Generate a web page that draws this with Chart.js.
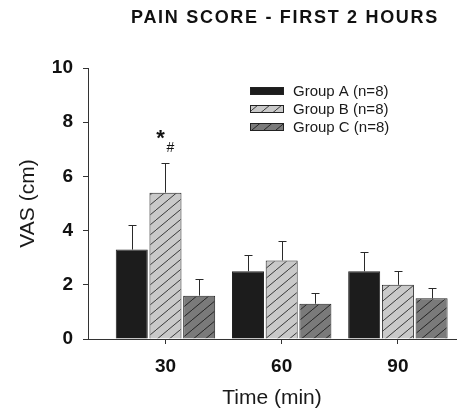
<!DOCTYPE html>
<html>
<head>
<meta charset="utf-8">
<script src="https://cdn.jsdelivr.net/npm/chart.js@4.4.1/dist/chart.umd.min.js"></script>
<style>
  html, body { margin: 0; padding: 0; background: #fff; }
</style>
</head>
<body>
<canvas id="chart" width="475" height="414"></canvas>
<script>
/* =========================
   DATA
========================= */
const times = [30, 60, 90];
const groupLabels = ["Group A (n=8)", "Group B (n=8)", "Group C (n=8)"];
const groupA = [3.3, 2.5, 2.5];
const groupB = [5.4, 2.9, 2.0];
const groupC = [1.6, 1.3, 1.5];
const semA = [0.9, 0.6, 0.7];
const semB = [1.1, 0.7, 0.5];
const semC = [0.6, 0.4, 0.4];
const yTicks = [0, 2, 4, 6, 8, 10];
const titleText = "PAIN SCORE - FIRST 2 HOURS";
// significance marks above a bar
const marks = [{ dataset: 1, index: 0, star: "*", hash: "#" }];

const FONT = "'Liberation Sans', Arial, sans-serif";
const canvas = document.getElementById("chart");
const ctx = canvas.getContext("2d");

/* =========================
   HATCH PATTERNS
========================= */
function hatch(bg, line) {
  const w = 12, h = 10;
  const c = document.createElement("canvas");
  c.width = w; c.height = h;
  const g = c.getContext("2d");
  g.fillStyle = bg;
  g.fillRect(0, 0, w, h);
  g.strokeStyle = line;
  g.lineWidth = 1;
  g.beginPath();
  g.moveTo(-w, 2 * h);
  g.lineTo(2 * w, -h);
  g.stroke();
  return ctx.createPattern(c, "repeat");
}

const fillA = "#1c1c1c";
const fillB = hatch("#c9c9c9", "#3a3a3a");
const fillC = hatch("#7a7a7a", "#262626");

function points(vals) {
  return times.map((t, i) => ({ x: t, y: vals[i] }));
}

/* =========================
   ERROR BARS
========================= */
const errorBars = {
  id: "errorBars",
  afterDatasetsDraw(chart) {
    const c = chart.ctx;
    const y = chart.scales.y;
    c.save();
    c.strokeStyle = "#2a2a2a";
    c.lineWidth = 1;
    chart.data.datasets.forEach((ds, di) => {
      chart.getDatasetMeta(di).data.forEach((bar, i) => {
        const top = Math.round(y.getPixelForValue(ds.data[i].y + ds.sem[i])) + 0.5;
        const x = Math.round(bar.x) + 0.5;
        c.beginPath();
        c.moveTo(x, bar.y);
        c.lineTo(x, top);
        c.moveTo(x - 4, top);
        c.lineTo(x + 4, top);
        c.stroke();
      });
    });
    c.restore();
  }
};

/* =========================
   TITLE, LEGEND, MARKS
========================= */
const extras = {
  id: "extras",
  afterDraw(chart) {
    const c = chart.ctx;
    const area = chart.chartArea;
    const y = chart.scales.y;
    c.save();

    // title
    c.fillStyle = "#111";
    c.font = "bold 18px " + FONT;
    c.textAlign = "center";
    c.textBaseline = "middle";
    c.letterSpacing = "1.7px";
    c.fillText(titleText, (area.left + area.right) / 2 + 13, 18);
    c.letterSpacing = "0px";

    // legend
    const lx = area.left + 162;
    const ly = area.top + 23;
    c.textAlign = "left";
    c.font = "15px " + FONT;
    chart.data.datasets.forEach((ds, i) => {
      const yy = ly + i * 18;
      c.fillStyle = ds.backgroundColor;
      c.fillRect(lx, yy - 4, 34, 8);
      c.strokeStyle = "#222";
      c.lineWidth = 1;
      c.strokeRect(lx + 0.5, yy - 3.5, 33, 7);
      c.fillStyle = "#1a1a1a";
      c.fillText(ds.label, lx + 43, yy + 1);
    });

    // significance marks
    marks.forEach(m => {
      const ds = chart.data.datasets[m.dataset];
      const bar = chart.getDatasetMeta(m.dataset).data[m.index];
      const top = y.getPixelForValue(ds.data[m.index].y + ds.sem[m.index]);
      c.fillStyle = "#111";
      c.textAlign = "center";
      c.font = "bold 22px " + FONT;
      c.fillText(m.star, bar.x - 5, top - 24);
      c.font = "14px " + FONT;
      c.fillText(m.hash, bar.x + 5, top - 15);
    });

    c.restore();
  }
};

/* =========================
   CHART
========================= */
new Chart(canvas, {
  type: "bar",
  data: {
    datasets: [
      { label: groupLabels[0], data: points(groupA), sem: semA, backgroundColor: fillA },
      { label: groupLabels[1], data: points(groupB), sem: semB, backgroundColor: fillB },
      { label: groupLabels[2], data: points(groupC), sem: semC, backgroundColor: fillC }
    ]
  },
  options: {
    responsive: false,
    animation: false,
    events: [],
    layout: { padding: { top: 68, right: 19, left: 0, bottom: 0 } },
    categoryPercentage: 0.87,
    barPercentage: 0.95,
    borderColor: "#222",
    borderWidth: 1,
    plugins: {
      legend: { display: false },
      tooltip: { enabled: false },
      title: { display: false }
    },
    scales: {
      x: {
        type: "linear",
        min: 10,
        max: 105,
        offset: false,
        grid: { offset: false, drawOnChartArea: false, tickLength: 5, color: "#333" },
        border: { color: "#333", width: 1 },
        afterBuildTicks: s => { s.ticks = times.map(v => ({ value: v })); },
        afterFit: s => { s.height = 75; },
        ticks: {
          color: "#111",
          padding: 11,
          maxRotation: 0,
          font: { family: FONT, size: 19, weight: "bold" }
        },
        title: {
          display: true,
          text: "Time (min)",
          color: "#1a1a1a",
          font: { family: FONT, size: 21 },
          padding: { top: 0, bottom: 3 }
        }
      },
      y: {
        min: 0,
        max: 10,
        grid: { drawOnChartArea: false, tickLength: 5, color: "#333" },
        border: { color: "#333", width: 1 },
        afterBuildTicks: s => { s.ticks = yTicks.map(v => ({ value: v })); },
        afterFit: s => { s.width = 88; },
        ticks: {
          color: "#111",
          padding: 10,
          font: { family: FONT, size: 19, weight: "bold" }
        },
        title: {
          display: true,
          text: "VAS (cm)",
          color: "#1a1a1a",
          font: { family: FONT, size: 21 },
          padding: { top: 16, bottom: 0 }
        }
      }
    }
  },
  plugins: [errorBars, extras]
});
</script>
</body>
</html>
